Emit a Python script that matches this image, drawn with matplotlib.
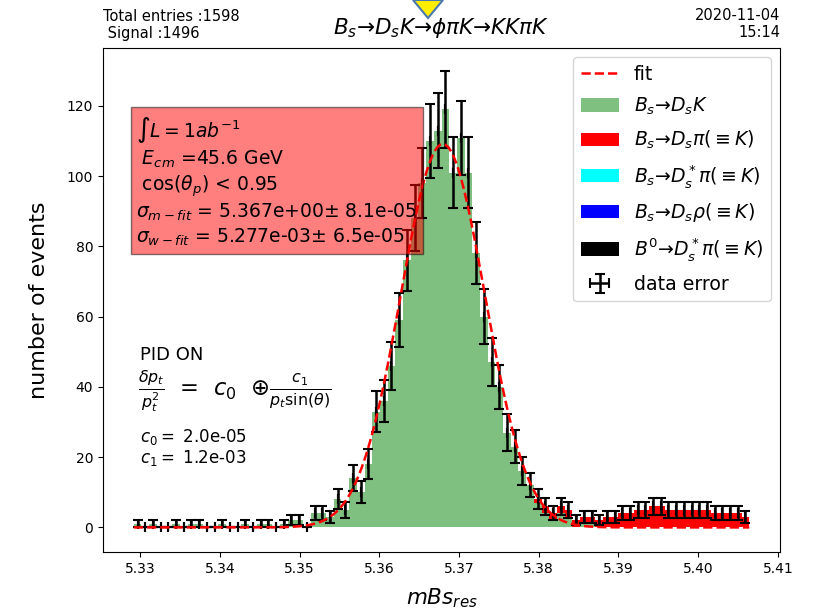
import numpy as np
import matplotlib
matplotlib.use("Agg")
import matplotlib.pyplot as plt
from matplotlib.patches import Polygon

# binning of the reconstructed mass
m_lo, m_hi, n_bins = 5.3292, 5.4064, 80

# signal Bs -> Ds K
n_dsk = [1, 0, 1, 0, 0, 1, 0, 1, 1, 0, 0, 1, 0, 0, 1, 0, 1, 1, 0,
         1, 2, 2, 0, 4, 4, 3, 8, 5, 14, 10, 18, 33, 36, 46, 59, 76, 88,
         98, 110, 113, 119, 101, 111, 101, 78, 60, 47, 40, 27, 23, 16, 12,
         7, 4, 2, 4, 3, 0, 1, 1, 0,
         0, 0, 0, 0, 0, 0, 0, 0, 0, 0, 0, 0, 0, 0, 0, 0, 0, 0, 0]
# Bs -> Ds pi misidentified as K
n_dspi = [0] * 52 + [1, 2, 2, 2, 2, 2, 2, 2, 2,
                     3, 3, 4, 4, 5, 5, 6, 6, 5, 5, 5, 5, 5, 5, 4, 4, 4, 4, 3]
# other backgrounds (empty)
n_dsstpi = [0] * n_bins
n_dsrho = [0] * n_bins
n_b0dsstpi = [0] * n_bins

# fit results
fit_mu, fit_mu_err = 5.367, 8.1e-05
fit_sigma, fit_sigma_err = 5.277e-03, 6.5e-05

edges = np.linspace(m_lo, m_hi, n_bins + 1)
centers = 0.5 * (edges[:-1] + edges[1:])
bw = edges[1] - edges[0]

comps = [np.array(n_dsk), np.array(n_dspi), np.array(n_dsstpi),
         np.array(n_dsrho), np.array(n_b0dsstpi)]
total = sum(comps)
n_sig = comps[0].sum()

fig = plt.figure(figsize=(8.15, 6.13), dpi=100)
ax = fig.add_axes([103/815, 61/613, 677/815, 504/613])
ax.use_sticky_edges = False

labels = [r"$B_s→D_sK$",
          r"$B_s→D_s\pi(\equiv K)$",
          r"$B_s→D_s^*\pi(\equiv K)$",
          r"$B_s→D_s\rho(\equiv K)$",
          r"$B^0→D_s^*\pi(\equiv K)$"]
colors = ["green", "red", "cyan", "blue", "black"]
alphas = [0.5, 1, 1, 1, 1]

bars = []
bottom = np.zeros(n_bins)
for c, lab, col, a in zip(comps, labels, colors, alphas):
    b = ax.bar(centers, c, width=bw, bottom=bottom, color=col, alpha=a, label=lab)
    bars.append(b)
    bottom = bottom + c

eb = ax.errorbar(centers, total, yerr=np.sqrt(total), xerr=0, fmt="none",
                 ecolor="black", elinewidth=1.8, capsize=3.5, capthick=1.5,
                 label="data error")

# gaussian fit, drawn against the upper bin edge
xf = np.linspace(m_lo - bw, m_hi - bw, 600)
yf = n_sig * bw / (np.sqrt(2 * np.pi) * fit_sigma) * np.exp(-0.5 * ((xf - fit_mu) / fit_sigma) ** 2)
fl, = ax.plot(xf + bw, yf, "r--", lw=1.8, label="fit")

ax.set_ylim(-7, 136.5)

ax.legend(handles=[fl] + [b for b in bars] + [eb], fontsize=13.6,
          loc="upper right", labelspacing=0.62)

ax.set_xlabel(r"$mBs_{res}$", fontsize=15.5, labelpad=8)
ax.set_ylabel("number of events", fontsize=16, labelpad=13)
ax.set_title(r"$B_s→D_sK→\phi\pi K→KK\pi K$", fontsize=15.5, pad=10)

box_txt = (r"$\int L = 1ab^{-1}$" + "\n"
           + r" $E_{cm}$ =45.6 GeV" + "\n"
           + r" cos($\theta_p$) < 0.95" + "\n"
           + r"$\sigma_{m-fit}$ = " + f"{fit_mu:.3e}± {fit_mu_err:.1e}" + "\n"
           + r"$\sigma_{w-fit}$ = " + f"{fit_sigma:.3e}± {fit_sigma_err:.1e}")
ax.text(0.049, 0.866, box_txt, transform=ax.transAxes, fontsize=13.5,
        va="top", ha="left", bbox=dict(boxstyle="square", facecolor="red", alpha=0.5))

ax.text(0.054, 0.391, "PID ON", transform=ax.transAxes, fontsize=13, va="center")
ax.text(0.052, 0.32, r"$\frac{\delta p_t}{p_t^2}$  =  $c_0$  $\oplus\frac{c_1}{p_t \sin(\theta)}$",
        transform=ax.transAxes, fontsize=16.3, va="center")
ax.text(0.054, 0.228, r"$c_0 =$ 2.0e-05", transform=ax.transAxes, fontsize=12, va="center")
ax.text(0.054, 0.187, r"$c_1 =$ 1.2e-03", transform=ax.transAxes, fontsize=12, va="center")

fig.text(103/815, 1 - 9/613, f"Total entries :{total.sum()}\n Signal :{n_sig}",
         fontsize=10.5, va="top", ha="left")
fig.text(780/815, 1 - 8/613, "2020-11-04\n15:14", fontsize=10.5, va="top",
         ha="right", multialignment="right")

# little marker on the top edge
fig.patches.append(Polygon([(413/815, 1.0), (443/815, 1.0), (428/815, 1 - 18/613)],
                           closed=True, transform=fig.transFigure,
                           facecolor="#ffee00", edgecolor="#4a78b0", lw=1.5))

fig.savefig("out.png", dpi=100)
